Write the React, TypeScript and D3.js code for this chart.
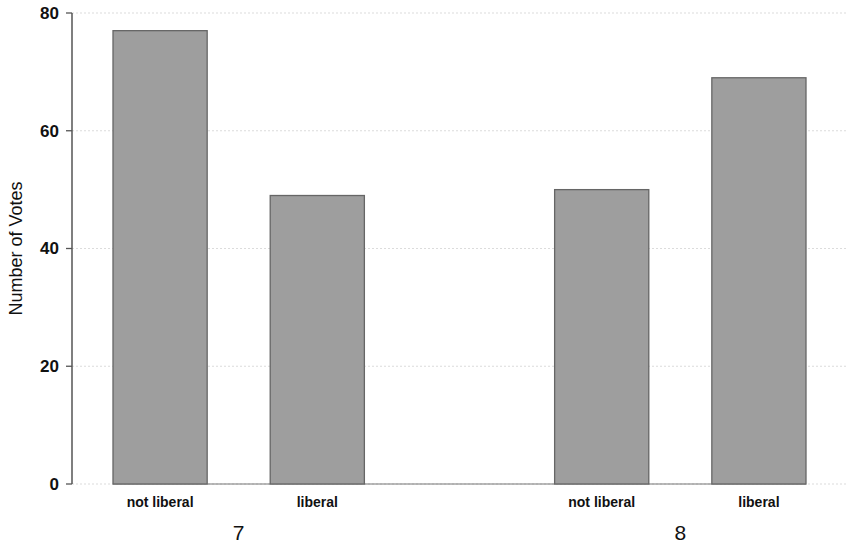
import React from "react";
import * as d3 from "d3";

const groups = ["7", "8"];
const categories = ["not liberal", "liberal"];
const notLiberal = [77, 50];
const liberal = [49, 69];
const yTicks = [0, 20, 40, 60, 80];

export default function App() {
  const W = 848, H = 547;
  const axisX = 72;
  const y = d3.scaleLinear().domain([0, 80]).range([484, 13]);
  const xOuter = d3.scaleBand<string>().domain(groups).range([113, 806]).paddingInner(0.4308).paddingOuter(0);
  const xInner = d3.scaleBand<string>().domain(categories).range([0, xOuter.bandwidth()]).paddingInner(0.401).paddingOuter(0);
  const series = [notLiberal, liberal];
  const font = "'Liberation Sans', Arial, Helvetica, sans-serif";

  return (
    <svg width={W} height={H} style={{ position: "absolute", left: 0, top: 0, background: "#fff" }} fontFamily={font}>
      {yTicks.map((t) => (
        <g key={t}>
          <line x1={axisX} x2={W} y1={y(t)} y2={y(t)} stroke="#dcdcdc" strokeWidth={1.2} strokeDasharray="2,2" />
          <line x1={axisX - 6} x2={axisX} y1={y(t)} y2={y(t)} stroke="#555" strokeWidth={1.3} />
          <text x={axisX - 13} y={y(t)} dy="0.35em" textAnchor="end" fontSize={17} fontWeight="bold" fill="#111">{t}</text>
        </g>
      ))}
      <line x1={axisX} x2={axisX} y1={y(80)} y2={y(0)} stroke="#555" strokeWidth={1.5} />
      <line x1={xOuter(groups[0])!} x2={xOuter(groups[1])! + xOuter.bandwidth()} y1={y(0)} y2={y(0)} stroke="#777" strokeWidth={1.2} />
      {groups.map((g, gi) => (
        <g key={g}>
          {categories.map((c, ci) => {
            const x0 = xOuter(g)! + xInner(c)!;
            const v = series[ci][gi];
            return (
              <g key={c}>
                <rect x={x0} y={y(v)} width={xInner.bandwidth()} height={y(0) - y(v)} fill="#9e9e9e" stroke="#666" strokeWidth={1.3} />
                <text x={x0 + xInner.bandwidth() / 2} y={507} textAnchor="middle" fontSize={14} fontWeight="bold" fill="#111">{c}</text>
              </g>
            );
          })}
          <text x={xOuter(g)! + xOuter.bandwidth() / 2} y={540} textAnchor="middle" fontSize={21} fill="#111">{g}</text>
        </g>
      ))}
      <text transform={`translate(22,${(y(0) + y(80)) / 2}) rotate(-90)`} textAnchor="middle" fontSize={18} fill="#111">Number of Votes</text>
    </svg>
  );
}
